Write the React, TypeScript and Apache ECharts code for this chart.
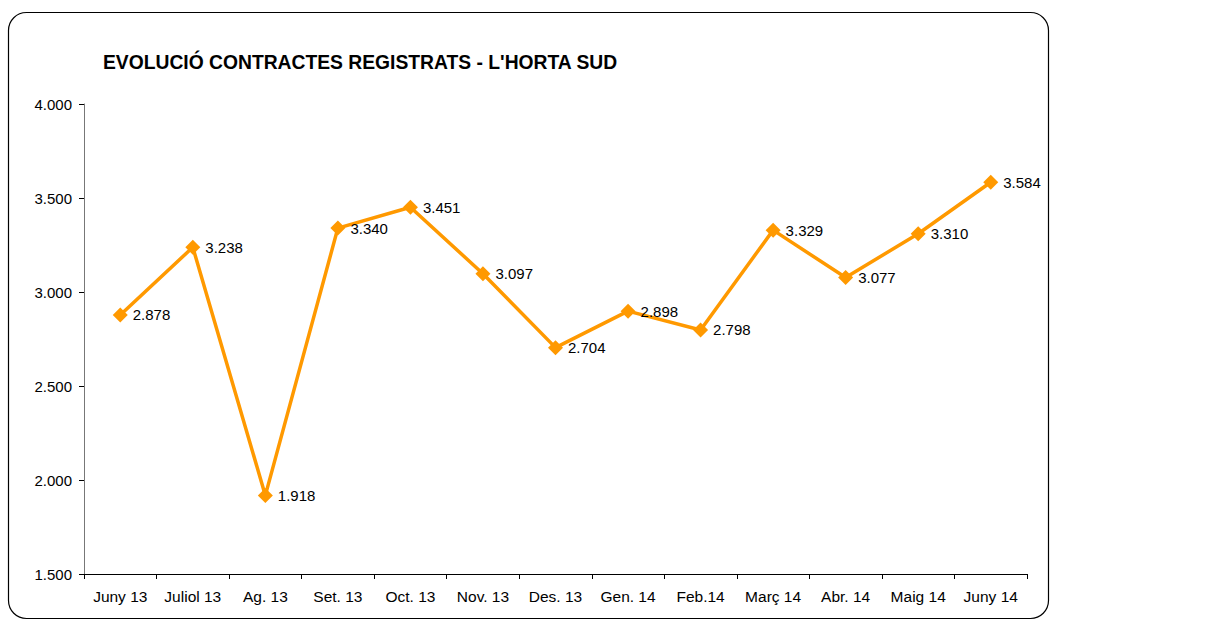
import React, { useEffect, useRef } from "react";
import * as echarts from "echarts";

const categories = ["Juny 13", "Juliol 13", "Ag. 13", "Set. 13", "Oct. 13", "Nov. 13", "Des. 13", "Gen. 14", "Feb.14", "Març 14", "Abr. 14", "Maig 14", "Juny 14"];
const contracts = [2878, 3238, 1918, 3340, 3451, 3097, 2704, 2898, 2798, 3329, 3077, 3310, 3584];
const yMin = 1500;
const yMax = 4000;
const yStep = 500;

const fmt = (v: number) => {
  const s = Math.round(v).toString();
  return s.replace(/\B(?=(\d{3})+(?!\d))/g, ".");
};

export default function App() {
  const ref = useRef<HTMLDivElement>(null);
  useEffect(() => {
    if (!ref.current) return;
    const chart = echarts.init(ref.current, undefined, { renderer: "svg" });
    chart.setOption({
      animation: false,
      backgroundColor: "#ffffff",
      textStyle: { fontFamily: "Liberation Sans, Arial, sans-serif" },
      title: {
        text: "EVOLUCIÓ CONTRACTES REGISTRATS - L'HORTA SUD",
        left: 98,
        top: 48,
        textStyle: { fontSize: 19.3, fontWeight: "bold", color: "#000", fontFamily: "Liberation Sans, Arial, sans-serif" },
      },
      graphic: [
        {
          type: "rect",
          shape: { x: 8.5, y: 12.5, width: 1040, height: 606, r: 18 },
          style: { fill: "none", stroke: "#000", lineWidth: 1.2 },
          silent: true,
        },
      ],
      grid: { left: 84, right: 202, top: 104, bottom: 47 },
      xAxis: {
        type: "category",
        data: categories,
        boundaryGap: true,
        axisLine: { lineStyle: { color: "#000", width: 1 } },
        axisTick: { show: true, length: 5, inside: false, lineStyle: { color: "#000" } },
        axisLabel: { color: "#000", fontSize: 15.5, margin: 14, interval: 0 },
        splitLine: { show: false },
      },
      yAxis: {
        type: "value",
        min: yMin,
        max: yMax,
        interval: yStep,
        axisLine: { show: true, lineStyle: { color: "#777", width: 1 } },
        axisTick: { show: true, length: 5, lineStyle: { color: "#000" } },
        axisLabel: { color: "#000", fontSize: 15, margin: 12, formatter: (v: number) => fmt(v) },
        splitLine: { show: false },
      },
      series: [
        {
          type: "line",
          data: contracts,
          symbol: "diamond",
          symbolSize: 15,
          lineStyle: { color: "#FF9900", width: 3.5 },
          itemStyle: { color: "#FF9900" },
          label: {
            show: true,
            position: "right",
            distance: 5,
            color: "#000",
            fontSize: 15,
            formatter: (p: any) => fmt(p.value),
          },
        },
      ],
    });
    return () => chart.dispose();
  }, []);
  return <div ref={ref} style={{ position: "fixed", left: 0, top: 0, width: 1229, height: 621 }} />;
}
